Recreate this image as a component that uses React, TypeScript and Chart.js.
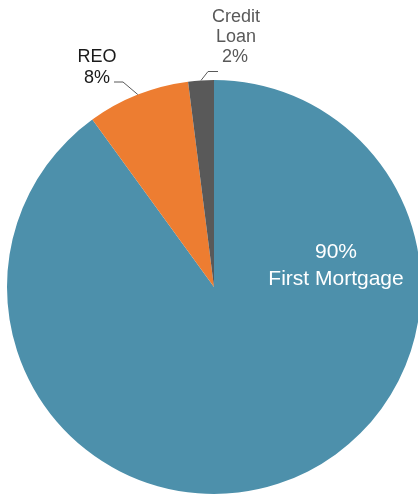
import React, { useEffect, useRef } from "react";
import { Chart, registerables } from "chart.js";

Chart.register(...registerables);

const categories = ["First Mortgage", "REO", "Credit Loan"];
const shares = [90, 8, 2];
const percentLabels = ["90%", "8%", "2%"];
const sliceColors = ["#4D90AB", "#ED7D31", "#595959"];

// label layout (relative to pie centre), text lines per slice
const labelLines: string[][] = [
  ["90%", "First Mortgage"],
  ["REO", "8%"],
  ["Credit", "Loan", "2%"],
];

const labelPlugin = {
  id: "sliceLabels",
  afterDatasetsDraw(chart: any) {
    const ctx = chart.ctx;
    const meta = chart.getDatasetMeta(0);
    const arcs = meta.data;
    const font = "'Liberation Sans', Arial, sans-serif";
    ctx.save();
    ctx.textAlign = "center";
    ctx.textBaseline = "alphabetic";

    // First Mortgage: inside label
    {
      const a = arcs[0];
      const cx = a.x, cy = a.y;
      ctx.fillStyle = "#ffffff";
      ctx.font = `21px ${font}`;
      ctx.fillText(labelLines[0][0], cx + 122, cy - 29);
      ctx.fillText(labelLines[0][1], cx + 122, cy - 2);
    }

    const edgePoint = (a: any) => {
      const mid = (a.startAngle + a.endAngle) / 2;
      return { x: a.x + a.outerRadius * Math.cos(mid), y: a.y + a.outerRadius * Math.sin(mid) };
    };

    // REO
    {
      const a = arcs[1];
      const cx = a.x, cy = a.y;
      ctx.fillStyle = "#1a1a1a";
      ctx.font = `18px ${font}`;
      ctx.fillText(labelLines[1][0], cx - 117, cy - 225);
      ctx.fillText(labelLines[1][1], cx - 117, cy - 204);
      const e = edgePoint(a);
      ctx.strokeStyle = "#595959";
      ctx.lineWidth = 1;
      ctx.beginPath();
      ctx.moveTo(e.x, e.y);
      ctx.lineTo(cx - 91, cy - 205);
      ctx.lineTo(cx - 100, cy - 205);
      ctx.stroke();
    }

    // Credit Loan
    {
      const a = arcs[2];
      const cx = a.x, cy = a.y;
      ctx.fillStyle = "#595959";
      ctx.font = `18px ${font}`;
      ctx.fillText(labelLines[2][0], cx + 22, cy - 265);
      ctx.fillText(labelLines[2][1], cx + 22, cy - 245);
      ctx.fillText(labelLines[2][2], cx + 21, cy - 225);
      const e = edgePoint(a);
      ctx.strokeStyle = "#595959";
      ctx.lineWidth = 1;
      ctx.beginPath();
      ctx.moveTo(e.x, e.y);
      ctx.lineTo(cx - 6, cy - 215.5);
      ctx.lineTo(cx + 4, cy - 215.5);
      ctx.stroke();
    }
    ctx.restore();
  },
};

export default function App() {
  const ref = useRef<HTMLCanvasElement>(null);
  useEffect(() => {
    if (!ref.current) return;
    const chart = new Chart(ref.current, {
      type: "pie",
      data: {
        labels: categories,
        datasets: [
          {
            data: shares,
            backgroundColor: sliceColors,
            borderWidth: 0,
          },
        ],
      },
      options: {
        responsive: false,
        animation: false,
        radius: 207,
        layout: { padding: { left: 10, right: 0, top: 77, bottom: 0 } },
        plugins: {
          legend: { display: false },
          tooltip: { enabled: false },
        },
      } as any,
      plugins: [labelPlugin],
    });
    return () => chart.destroy();
  }, []);
  return (
    <div style={{ position: "fixed", left: 0, top: 0, width: 418, height: 497, background: "#fff" }}>
      <canvas ref={ref} width={418} height={497} style={{ display: "block" }} />
    </div>
  );
}
